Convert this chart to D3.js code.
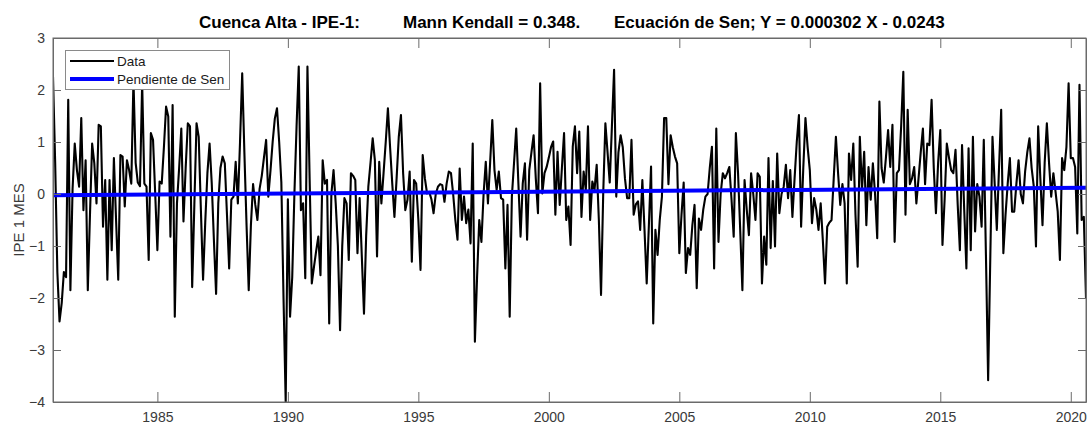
<!DOCTYPE html>
<html>
<head>
<meta charset="utf-8">
<script src="https://cdn.jsdelivr.net/npm/d3@7"></script>
<style>
  html, body { margin: 0; padding: 0; background: #ffffff; }
  svg { display: block; }
  text { font-family: "Liberation Sans", Arial, Helvetica, sans-serif; }
</style>
</head>
<body>
<svg id="chart" width="1087" height="425"></svg>
<script>
// ---- Data (monthly IPE-1 values, Jan 1981 onward) ----
const startYear = 1981;
const ipeValues = [
  2.26, 0.6, -1.5, -2.45, -2.1, -1.5, -1.6, 1.81, -1.85, 0.1,
  0.97, 0.46, 0.14, 1.46, -0.31, 0.65, -1.85, -0.4, 0.97, 0.59,
  -0.18, 1.33, 1.3, -0.63, 0.27, -1.65, 0.27, -1.08, 0.69, -0.5,
  -1.65, 0.75, 0.72, -0.24, 0.65, 0.46, 0.2, 2.19, 0.6, 0.22,
  0.15, 2.13, 0.2, 0.14, -1.27, 1.17, 1.04, 0.0, -1.08, 0.24,
  0.2, 0.9, 1.68, 1.49, -0.82, 1.71, -2.36, -0.18, 0.5, 1.26,
  -0.53, 0.5, 1.36, 1.3, -1.79, -0.2, 1.36, 1.1, -0.3, -1.65,
  -0.55, 0.4, 0.97, 0.2, -0.9, -1.92, -0.18, 0.5, 0.72, 0.59,
  -0.4, -1.43, -0.11, -0.05, 0.62, -0.18, 1.0, 2.32, 0.8, -0.6,
  -1.85, -0.6, 0.19, -0.2, -0.5, 0.1, 0.35, 0.7, 1.04, -0.05,
  0.45, 1.0, 1.45, 1.65, 1.0, 0.22, -2.0, -4.0, -0.1, -2.36,
  -1.6, 0.0, 1.3, 2.45, -0.31, -0.18, -1.62, 2.45, 0.3, -1.72,
  -1.4, -1.1, -0.82, -1.56, 0.65, 0.2, 0.27, -2.49, 0.0, 0.46,
  -0.18, -1.0, -2.62, -1.0, -0.08, -0.18, -1.27, 0.40, 0.35, 0.27,
  -1.14, -0.08, -1.2, -2.3, -0.8, 0.14, 0.6, 1.07, 0.65, -1.2,
  0.62, -0.18, 0.40, 1.0, 1.65, 0.9, 0.2, -0.44, 0.3, 1.1,
  1.52, 0.4, -0.31, -0.11, 0.43, -1.3, 0.27, 0.2, -0.5, -1.46,
  0.75, 0.3, 0.01, 0.04, -0.1, -0.37, 0.0, 0.14, 0.19, 0.17,
  -0.15, 0.2, 0.43, 0.40, 0.0, -0.5, -0.88, 0.49, -0.5, -0.05,
  -0.56, -0.3, -0.95, 0.97, -2.84, -1.6, -0.5, -0.92, 0.0, 0.62,
  -0.18, 0.6, 1.42, 0.46, 0.08, 0.43, -0.08, -0.11, -1.43, -0.21,
  -2.36, -0.05, 0.6, 1.26, 0.2, -0.82, 0.2, 0.59, -0.88, 0.46,
  0.8, 1.13, 0.3, -0.37, 2.13, 0.01, 0.4, 0.52, 0.7, 0.9,
  1.01, -0.4, 0.81, -0.21, 0.5, 1.17, -0.5, -0.24, -0.98, 0.91,
  1.3, 0.40, 1.2, -0.44, 0.43, 0.08, 1.3, -0.5, 0.24, 0.08,
  0.56, -0.5, -1.94, 0.0, 1.36, 0.8, 0.22, 1.3, 2.39, -0.05,
  0.8, 1.13, 0.9, 0.3, -0.08, -0.08, 1.04, -0.4, -0.2, -0.14,
  -0.69, 0.27, -0.7, -1.72, -0.6, 0.53, -2.49, -0.69, -1.17, -0.5,
  -0.05, 1.46, 1.46, 0.19, 1.13, 0.9, 0.72, 0.59, -1.14, -0.4,
  0.22, -1.52, -1.04, -1.17, -0.6, -0.21, -1.81, -0.47, -0.69, -0.3,
  -0.05, 0.0, 0.5, 0.91, -1.43, 1.26, -0.92, 0.0, 0.40, 0.3,
  0.40, 0.52, -0.1, -0.82, 1.17, 0.4, -0.7, -1.85, 0.27, -0.3,
  -0.79, 0.4, 0.0, -0.5, 0.40, 0.33, -1.72, -0.82, -1.36, 0.69,
  -1.04, 0.25, -1.01, 0.78, -0.37, 0.0, 0.14, 0.56, -0.08, 0.46,
  -0.44, 0.3, 1.0, 1.52, -0.63, 0.5, 1.46, 0.9, 0.46, -0.56,
  -0.08, -0.3, -0.69, -0.18, -0.9, -1.72, -0.63, -0.55, -0.5, 0.3,
  1.1, 0.4, -0.21, 0.19, -0.18, -1.72, 0.78, 0.27, 0.97, -0.4,
  -1.4, 1.1, 0.08, 0.81, -0.6, 0.52, -0.11, 0.59, 0.0, -0.85,
  1.78, 0.5, 0.22, 0.7, 1.23, 0.52, 1.33, -0.92, 0.40, 0.46,
  1.3, 2.35, -0.4, 1.62, 0.19, 0.3, 0.52, -0.18, 0.3, 0.8,
  1.26, 0.19, 0.97, 0.94, 1.81, 0.5, -0.37, 0.6, 1.23, -0.98,
  -0.1, 0.97, 0.7, 0.46, 0.40, 0.85, -0.2, -1.08, 0.94, -0.3,
  -1.43, 0.88, -1.08, 1.1, -0.72, 0.19, -0.05, -0.63, 1.04, -1.2,
  -3.58, -1.2, 1.1, 0.2, -0.69, 0.5, 1.62, -1.14, -0.4, 0.2,
  0.69, -0.34, -0.34, 0.2, 0.65, 0.0, -0.18, 0.43, 0.8, 1.07,
  0.5, 0.14, -1.01, 1.3, 0.3, -0.6, 0.6, 1.36, 0.6, -0.05,
  0.40, 0.04, -0.34, -1.27, 0.69, 0.46, 0.9, 2.13, 0.69, 0.69,
  0.52, -0.76, 2.10, -0.5, -0.44, -2.0
];
const senSlope = 0.000302;
const senIntercept = -0.0243;
const xTickYears = [1985, 1990, 1995, 2000, 2005, 2010, 2015, 2020];
const yTickValues = [-4, -3, -2, -1, 0, 1, 2, 3];
const titleParts = ["Cuenca Alta - IPE-1:", "Mann Kendall = 0.348.", "Ecuación de Sen; Y = 0.000302 X - 0.0243"];
const legendLabels = ["Data", "Pendiente de Sen"];
const yLabel = "IPE 1 MES";

// ---- Layout ----
const W = 1087, H = 425;
const plot = { left: 53, right: 1086, top: 38, bottom: 402 };
const axisColor = "#6b6b6b";
const textColor = "#3a3a3a";

const data = ipeValues.map((v, i) => ({ t: startYear + i / 12, v: v, idx: i + 1 }));

const x = d3.scaleLinear()
  .domain([data[0].t, data[data.length - 1].t])
  .range([plot.left, plot.right]);
const y = d3.scaleLinear()
  .domain([-4, 3])
  .range([plot.bottom, plot.top]);

const svg = d3.select("#chart");

svg.append("defs").append("clipPath").attr("id", "clip")
  .append("rect")
  .attr("x", plot.left).attr("y", plot.top - 1)
  .attr("width", plot.right - plot.left).attr("height", plot.bottom - plot.top + 2);

// data line
const line = d3.line().x(d => x(d.t)).y(d => y(d.v));
svg.append("path")
  .datum(data)
  .attr("clip-path", "url(#clip)")
  .attr("fill", "none")
  .attr("stroke", "#000000")
  .attr("stroke-width", 2.1)
  .attr("stroke-linejoin", "round")
  .attr("d", line);

// Sen slope line
const senData = [data[0], data[data.length - 1]].map(d => ({ t: d.t, v: senSlope * d.idx + senIntercept }));
svg.append("path")
  .datum(senData)
  .attr("fill", "none")
  .attr("stroke", "#0000ff")
  .attr("stroke-width", 4)
  .attr("d", d3.line().x(d => x(d.t)).y(d => y(d.v)));

// axes
const tickLenX = 10, tickLenY = 8;
const gBottom = svg.append("g").attr("transform", `translate(0,${plot.bottom})`)
  .call(d3.axisBottom(x).tickValues(xTickYears).tickFormat(d3.format("d")).tickSizeInner(-tickLenX).tickSizeOuter(0).tickPadding(10));
const gTop = svg.append("g").attr("transform", `translate(0,${plot.top})`)
  .call(d3.axisTop(x).tickValues(xTickYears).tickFormat("").tickSizeInner(-tickLenX).tickSizeOuter(0));
const gLeft = svg.append("g").attr("transform", `translate(${plot.left},0)`)
  .call(d3.axisLeft(y).tickValues(yTickValues).tickFormat(d3.format("d")).tickSizeInner(-tickLenY).tickSizeOuter(0).tickPadding(8));
const gRight = svg.append("g").attr("transform", `translate(${plot.right},0)`)
  .call(d3.axisRight(y).tickValues(yTickValues).tickFormat("").tickSizeInner(-tickLenY).tickSizeOuter(0));

[gBottom, gTop, gLeft, gRight].forEach(g => {
  g.select(".domain").attr("stroke", axisColor).attr("stroke-width", 1);
  g.selectAll(".tick line").attr("stroke", axisColor).attr("stroke-width", 1);
  g.selectAll(".tick text").attr("fill", textColor).style("font-size", "14px")
    .style("font-family", '"Liberation Sans", Arial, sans-serif');
});
svg.append("rect")
  .attr("x", plot.left).attr("y", plot.top)
  .attr("width", plot.right - plot.left).attr("height", plot.bottom - plot.top)
  .attr("fill", "none").attr("stroke", axisColor).attr("stroke-width", 1);

// title
const title = svg.append("text")
  .attr("y", 28)
  .attr("fill", "#000")
  .style("font-size", "17px")
  .style("font-weight", "bold");
const titleX = [199, 403, 614];
titleParts.forEach((p, i) => {
  title.append("tspan").attr("x", titleX[i]).text(p);
});

// y label
svg.append("text")
  .attr("transform", `translate(24,${(plot.top + plot.bottom) / 2}) rotate(-90)`)
  .attr("text-anchor", "middle")
  .attr("fill", textColor)
  .style("font-size", "15px")
  .text(yLabel);

// legend
const lg = svg.append("g");
lg.append("rect")
  .attr("x", 65.5).attr("y", 50.5).attr("width", 164).attr("height", 39)
  .attr("fill", "#ffffff").attr("stroke", "#8a8a8a").attr("stroke-width", 1);
const legendColors = ["#000000", "#0000ff"];
const legendWidths = [2, 4];
legendLabels.forEach((lab, i) => {
  const ly = 61 + i * 18;
  lg.append("line").attr("x1", 70).attr("x2", 114).attr("y1", ly).attr("y2", ly)
    .attr("stroke", legendColors[i]).attr("stroke-width", legendWidths[i]);
  lg.append("text").attr("x", 117).attr("y", ly + 4.5)
    .attr("fill", "#1a1a1a").style("font-size", "13.5px").text(lab);
});
</script>
</body>
</html>
